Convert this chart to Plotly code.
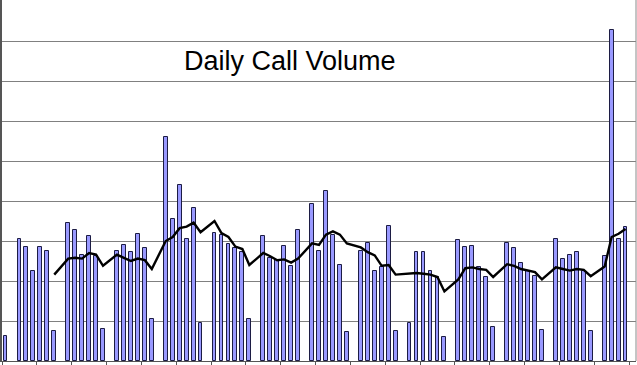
import plotly.graph_objects as go

# Day index (91 consecutive days; empty days have no bar)
days = list(range(1, 92))

calls = [
    31, None, 152, 142, 112, 143, 138, 38, None, 172,
    164, 133, 156, 131, 40, None, 138, 145, 136, 159,
    141, 52, None, 280, 177, 220, 153, 191, 48, None,
    160, 157, 146, 141, 136, 52, None, 156, 129, 126,
    144, 119, 164, None, 196, 137, 213, 158, 120, 36,
    None, 137, 147, 112, 118, 169, 37, None, 48, 136,
    136, 112, 105, 30, None, 151, 143, 144, 117, 105,
    42, None, 148, 141, 123, 112, 106, 39, None, 153,
    128, 133, 136, 113, 37, None, 131, 414, 152, 167,
    None,
]

moving_avg = [
    None, None, None, None, None, None, None, 108, None, 128,
    129, 128, 135, 133, 119, None, 133, 129, 125, 128,
    126, 115, None, 150, 155, 166, 168, 173, 161, None,
    175, 160, 155, 143, 140, 120, None, 135, 131, 126,
    127, 123, 128, None, 147, 145, 158, 162, 158, 147,
    None, 142, 136, 132, 119, 120, 108, None, 109, 110,
    109, 108, 105, 87, None, 102, 116, 117, 115, 114,
    105, None, 121, 119, 115, 113, 111, 102, None, 117,
    115, 113, 115, 114, 106, None, 118, 155, 159, 165,
    None,
]

title_text = "Daily Call Volume"

fig = go.Figure()
fig.add_trace(go.Bar(
    x=days, y=calls, width=0.55,
    marker=dict(color="#9999FF", line=dict(color="#1c1c44", width=1)),
    showlegend=False,
))
fig.add_trace(go.Scatter(
    x=days, y=moving_avg, mode="lines", connectgaps=True,
    line=dict(color="#000000", width=2.4),
    showlegend=False,
))

fig.update_layout(
    width=637, height=365,
    margin=dict(l=2, r=1, t=0, b=4),
    paper_bgcolor="white", plot_bgcolor="white",
    bargap=0,
    annotations=[dict(
        text=title_text, xref="paper", yref="paper",
        x=0.455, y=(361 - 61) / 361, xanchor="center", yanchor="middle",
        showarrow=False,
        font=dict(family="Liberation Sans, Arial", size=27, color="black"),
    )],
    shapes=[dict(type="line", xref="paper", yref="paper", x0=1, x1=1, y0=0, y1=1,
                 line=dict(color="#8a8a8a", width=1))],
)
fig.update_xaxes(
    range=[0.5, 91.5], showgrid=False, zeroline=False,
    showline=True, linecolor="#555555", linewidth=1,
    ticks="outside", ticklen=4, tickcolor="#555555",
    tick0=0.5, dtick=5, tickmode="linear", showticklabels=False,
)
fig.update_yaxes(
    range=[0, 451.25], showgrid=True, gridcolor="#808080", gridwidth=1,
    zeroline=False, showline=True, linecolor="#555555", linewidth=1.5,
    ticks="outside", ticklen=3, tickcolor="#555555",
    tick0=0, dtick=50, tickmode="linear", showticklabels=False,
)

fig.write_html(
    "out.html",
    config={"displayModeBar": False},
    post_script="document.body.style.margin='0';document.body.style.overflow='hidden';",
)
